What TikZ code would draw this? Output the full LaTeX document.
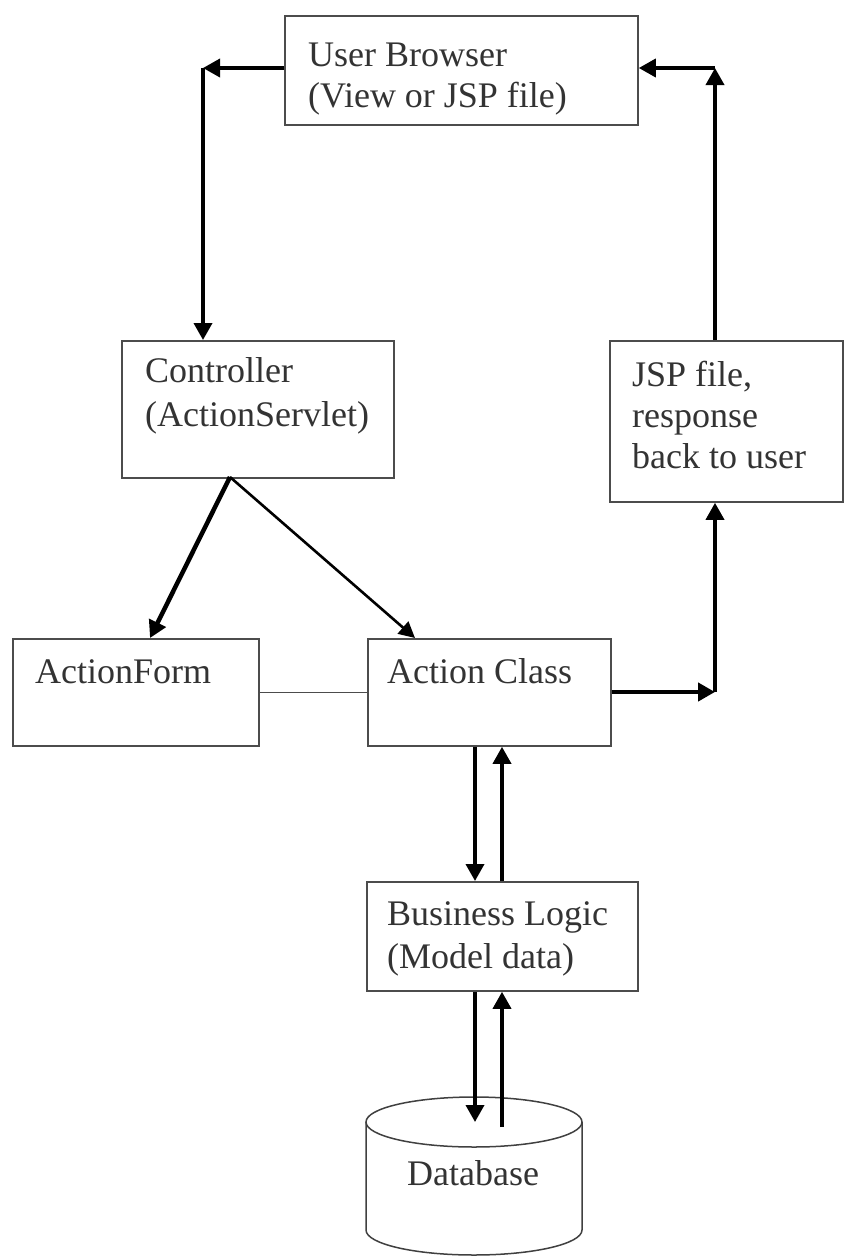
\documentclass[tikz,border=0pt]{standalone}
\usepackage{fontspec}
\setmainfont{Liberation Serif}
\usetikzlibrary{arrows.meta}
\begin{document}
\begin{tikzpicture}[x=1pt,y=-1pt,
  box/.style={draw=black!70, line width=1.8pt, inner sep=0pt, anchor=north west},
  txt/.style={anchor=base west, inner sep=0pt, text=black!80, font=\fontsize{36}{42}\selectfont},
  arr/.style={line width=3.6pt, -{Triangle[length=17pt,width=18pt]}},
  thinarr/.style={line width=2.6pt, -{Triangle[length=16pt,width=16pt]}},
  link/.style={draw=black!70, line width=1.5pt},
  dbline/.style={draw=black!75, line width=1.5pt}]
\useasboundingbox (0,0) rectangle (844,1256);
% boxes
\node[box, minimum width=353pt, minimum height=109pt] (ub) at (284,15) {};
\node[box, minimum width=272pt, minimum height=137pt] (ctrl) at (121,340) {};
\node[box, minimum width=233pt, minimum height=161pt] (jsp) at (609,340) {};
\node[box, minimum width=246pt, minimum height=107pt] (af) at (12,638) {};
\node[box, minimum width=243pt, minimum height=107pt] (ac) at (367,638) {};
\node[box, minimum width=271pt, minimum height=109pt] (bl) at (366,881) {};
% database cylinder
\draw[dbline] (366,1122) -- (366,1230) arc[start angle=180, end angle=0, x radius=108, y radius=25] -- (582,1122);
\draw[dbline] (474,1122) ellipse[x radius=108, y radius=25];
\coordinate (dbtop) at (474,1122);
\coordinate (dbin) at (474,1127);
% texts
\node[txt] (t1) at (308,66) {User Browser};
\node[txt] (t2) at (308,107) {(View or JSP file)};
\node[txt] (t3) at (145,382) {Controller};
\node[txt] (t4) at (145,426) {(ActionServlet)};
\node[txt] (t5) at (632,386) {JSP file,};
\node[txt] (t6) at (632,427) {response};
\node[txt] (t7) at (632,468) {back to user};
\node[txt] (t8) at (35,683) {ActionForm};
\node[txt] (t9) at (387,683) {Action Class};
\node[txt] (t10) at (387,925) {Business Logic};
\node[txt] (t11) at (387,968) {(Model data)};
\node[txt] (t12) at (407,1185) {Database};
% helper coordinates
\coordinate (tl) at (203,68);
\coordinate (tr) at (715,68);
\coordinate (br) at (715,692);
\coordinate (c1) at (475,0);
\coordinate (c2) at (502,0);
\coordinate (cs) at (230,477);
\coordinate (afin) at (150,638);
\coordinate (acin) at (415,638);
% connectors
\draw[arr] (tl -| ub.west) -- (tl);
\draw[arr] (tl) -- (tl |- ctrl.north);
\draw[arr] (tr |- jsp.north) -- (tr);
\draw[arr] (tr) -- (tr -| ub.east);
\draw[arr, line width=4.5pt] (br -| ac.east) -- (br);
\draw[arr] (br) -- (br |- jsp.south);
\draw[arr, line width=4.5pt] (cs) -- (afin);
\draw[thinarr] (cs) -- (acin);
\draw[link] (af.east) -- (ac.west);
\draw[arr] (c1 |- ac.south) -- (c1 |- bl.north);
\draw[arr] (c2 |- bl.north) -- (c2 |- ac.south);
\draw[arr] (c1 |- bl.south) -- (c1 |- dbtop);
\draw[arr] (c2 |- dbin) -- (c2 |- bl.south);
\end{tikzpicture}
\end{document}
